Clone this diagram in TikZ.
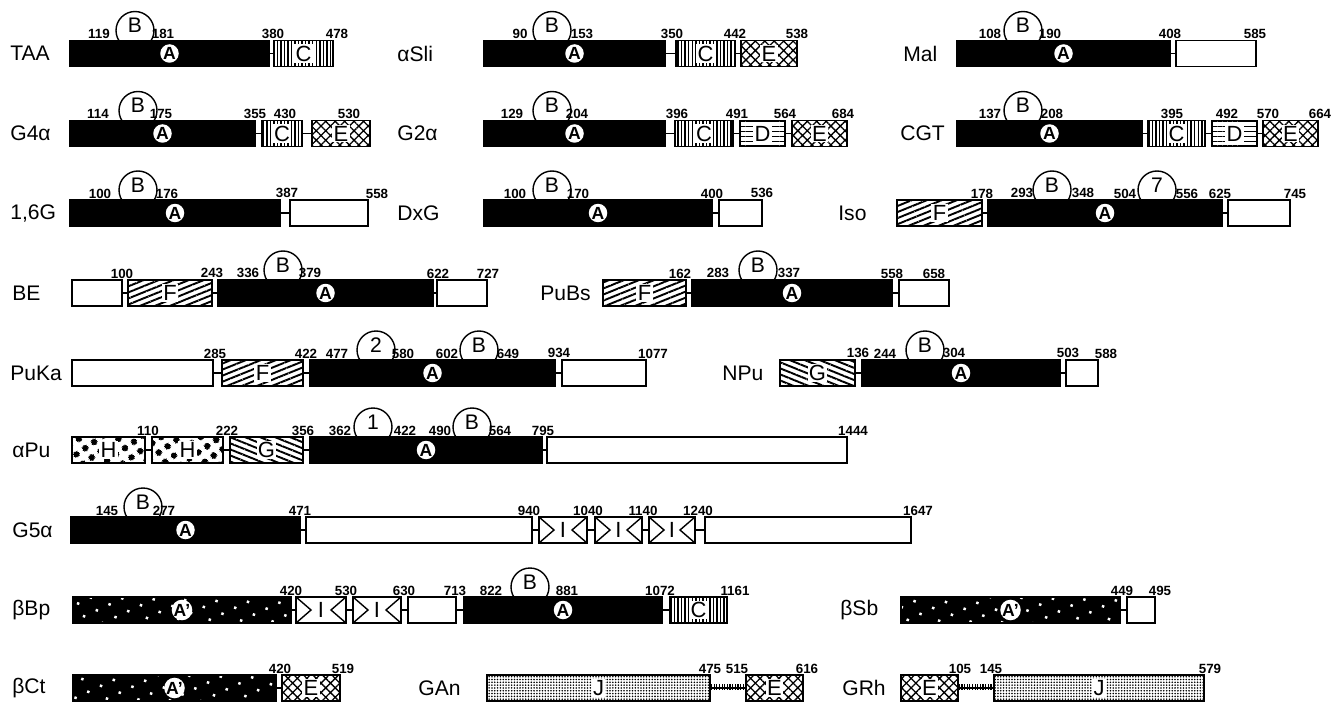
\documentclass[tikz,border=0pt]{standalone}
\usepackage{fontspec}
\setmainfont{Liberation Sans}
\usetikzlibrary{patterns.meta}

% one domain box: name, style, left x, right x, row y
\newcommand{\segbox}[5]{\node[#2, minimum width={(#4-#3)*0.02cm}, anchor=west] (#1) at (#3,#5) {};}

\begin{document}
\begin{tikzpicture}[
    x=0.02cm, y=-0.02cm,
    box/.style={draw, rectangle, line width=1pt, inner sep=0pt, outer sep=0pt, minimum height=0.52cm},
    domA/.style={box, fill=black},
    domAp/.style={box, preaction={fill=black}, pattern={Dots[radius=1pt, distance=8pt, angle=25]}, pattern color=white},
    domC/.style={box, pattern={Lines[angle=90, distance=2pt, line width=0.85pt]}},
    domD/.style={box, pattern={Lines[angle=0, distance=2.8pt, line width=0.7pt]}},
    domE/.style={box, pattern={Hatch[angle=45, distance=3.8pt, line width=0.75pt]}},
    domF/.style={box, pattern={Lines[angle=22, distance=3.2pt, line width=1.1pt]}},
    domG/.style={box, pattern={Lines[angle=-22, distance=3.2pt, line width=1.1pt]}},
    domH/.style={box, pattern={Dots[radius=2pt, distance=6.5pt, angle=35]}},
    domJ/.style={box, pattern={Dots[radius=0.5pt, distance=1.6pt]}},
    domW/.style={box, fill=white},
    domI/.style={box, fill=white, path picture={
        \draw[line width=0.8pt] (path picture bounding box.north west) -- ++(15,13) -- (path picture bounding box.south west);
        \draw[line width=0.8pt] (path picture bounding box.north east) -- ++(-15,13) -- (path picture bounding box.south east);}},
    link/.style={line width=1pt},
    ladder/.style={pattern={Lines[angle=90, distance=1.5pt, line width=0.7pt]}},
    rowlab/.style={anchor=west, inner sep=0pt, font=\fontsize{12}{12}\selectfont},
    lab/.style={fill=white, inner sep=0.8pt, font=\fontsize{12.5}{12}\selectfont},
    circA/.style={circle, fill=white, inner sep=0pt, minimum size=0.37cm, font=\bfseries\fontsize{10}{10}\selectfont},
    bcirc/.style={circle, draw, fill=white, line width=0.8pt, minimum size=0.76cm, inner sep=0pt,
        label={[font=\fontsize{12}{12}\selectfont, yshift=0.1cm]center:#1}},
    num/.style={anchor=south, inner sep=0pt, font=\bfseries\fontsize{7.6}{8}\selectfont}
]
\useasboundingbox (0,0) rectangle (1341,702);

% TAA
\node[rowlab] (taa) at (10,53.5) {TAA};
\node[bcirc=B] (taa-b) at (135,30.5) {};
\segbox{taa-a}{domA}{70}{269}{53.5}
\segbox{taa-c}{domC}{274}{333}{53.5}
\draw[link] (taa-a) -- (taa-c);
\node[circA] (taa-al) at (taa-a) {A};
\node[lab] (taa-cl) at (taa-c) {C};
\foreach \n/\x in {119/99,181/163,380/273,478/337} \node[num] (taa-\n) at (\x,39) {\n};

% aSli
\node[rowlab] (asli) at (397,53.5) {αSli};
\node[bcirc=B] (asli-b) at (552,30.5) {};
\segbox{asli-a}{domA}{484}{665}{53.5}
\segbox{asli-c}{domC}{676}{735}{53.5}
\segbox{asli-e}{domE}{741}{797}{53.5}
\draw[link] (asli-a) -- (asli-c);
\draw[link] (asli-c) -- (asli-e);
\node[circA] (asli-al) at (asli-a) {A};
\node[lab] (asli-cl) at (asli-c) {C};
\node[lab] (asli-el) at (asli-e) {E};
\foreach \n/\x in {90/520,153/582,350/672,442/735,538/797} \node[num] (asli-\n) at (\x,39) {\n};

% Mal
\node[rowlab] (mal) at (903,53.5) {Mal};
\node[bcirc=B] (mal-b) at (1023,30.5) {};
\segbox{mal-a}{domA}{957}{1170}{53.5}
\segbox{mal-w}{domW}{1176}{1256}{53.5}
\draw[link] (mal-a) -- (mal-w);
\node[circA] (mal-al) at (mal-a) {A};
\foreach \n/\x in {108/990,190/1050,408/1170,585/1255} \node[num] (mal-\n) at (\x,39) {\n};

% G4a
\node[rowlab] (g4a) at (10,133.5) {G4α};
\node[bcirc=B] (g4a-b) at (138,110.5) {};
\segbox{g4a-a}{domA}{70}{255}{133.5}
\segbox{g4a-c}{domC}{262}{302}{133.5}
\segbox{g4a-e}{domE}{312}{370}{133.5}
\draw[link] (g4a-a) -- (g4a-c);
\draw[link] (g4a-c) -- (g4a-e);
\node[circA] (g4a-al) at (g4a-a) {A};
\node[lab] (g4a-cl) at (g4a-c) {C};
\node[lab] (g4a-el) at (g4a-e) {E};
\foreach \n/\x in {114/98,175/161,355/255,430/285,530/349} \node[num] (g4a-\n) at (\x,119) {\n};

% G2a
\node[rowlab] (g2a) at (397,133.5) {G2α};
\node[bcirc=B] (g2a-b) at (552,110.5) {};
\segbox{g2a-a}{domA}{484}{665}{133.5}
\segbox{g2a-c}{domC}{675}{733}{133.5}
\segbox{g2a-d}{domD}{740}{785}{133.5}
\segbox{g2a-e}{domE}{792}{847}{133.5}
\draw[link] (g2a-a) -- (g2a-c);
\draw[link] (g2a-c) -- (g2a-d);
\draw[link] (g2a-d) -- (g2a-e);
\node[circA] (g2a-al) at (g2a-a) {A};
\node[lab] (g2a-cl) at (g2a-c) {C};
\node[lab] (g2a-dl) at (g2a-d) {D};
\node[lab] (g2a-el) at (g2a-e) {E};
\foreach \n/\x in {129/512,204/577,396/677,491/737,564/785,684/843} \node[num] (g2a-\n) at (\x,119) {\n};

% CGT
\node[rowlab] (cgt) at (900,133.5) {CGT};
\node[bcirc=B] (cgt-b) at (1023,110.5) {};
\segbox{cgt-a}{domA}{957}{1142}{133.5}
\segbox{cgt-c}{domC}{1148}{1205}{133.5}
\segbox{cgt-d}{domD}{1212}{1257}{133.5}
\segbox{cgt-e}{domE}{1263}{1318}{133.5}
\draw[link] (cgt-a) -- (cgt-c);
\draw[link] (cgt-c) -- (cgt-d);
\draw[link] (cgt-d) -- (cgt-e);
\node[circA] (cgt-al) at (cgt-a) {A};
\node[lab] (cgt-cl) at (cgt-c) {C};
\node[lab] (cgt-dl) at (cgt-d) {D};
\node[lab] (cgt-el) at (cgt-e) {E};
\foreach \n/\x in {137/990,208/1052,395/1172,492/1227,570/1268,664/1320} \node[num] (cgt-\n) at (\x,119) {\n};

% 1,6G
\node[rowlab] (g16) at (10,213) {1,6G};
\node[bcirc=B] (g16-b) at (138,190) {};
\segbox{g16-a}{domA}{70}{280}{213}
\segbox{g16-w}{domW}{290}{368}{213}
\draw[link] (g16-a) -- (g16-w);
\node[circA] (g16-al) at (g16-a) {A};
\foreach \n/\x in {100/100,176/167,387/287,558/377} \node[num] (g16-\n) at (\x,198.5) {\n};

% DxG
\node[rowlab] (dxg) at (397,213) {DxG};
\node[bcirc=B] (dxg-b) at (552,190) {};
\segbox{dxg-a}{domA}{484}{712}{213}
\segbox{dxg-w}{domW}{719}{762}{213}
\draw[link] (dxg-a) -- (dxg-w);
\node[circA] (dxg-al) at (dxg-a) {A};
\foreach \n/\x in {100/515,170/578,400/712,536/762} \node[num] (dxg-\n) at (\x,198.5) {\n};

% Iso
\node[rowlab] (iso) at (838,213) {Iso};
\node[bcirc=B] (iso-b) at (1052,190) {};
\node[bcirc=7] (iso-7) at (1157,190) {};
\segbox{iso-f}{domF}{897}{982}{213}
\segbox{iso-a}{domA}{988}{1222}{213}
\segbox{iso-w}{domW}{1228}{1290}{213}
\draw[link] (iso-f) -- (iso-a);
\draw[link] (iso-a) -- (iso-w);
\node[lab] (iso-fl) at (iso-f) {F};
\node[circA] (iso-al) at (iso-a) {A};
\foreach \n/\x in {178/982,293/1022,348/1083,504/1125,556/1187,625/1220,745/1295} \node[num] (iso-\n) at (\x,198.5) {\n};

% BE
\node[rowlab] (be) at (12,293) {BE};
\node[bcirc=B] (be-b) at (283,270) {};
\segbox{be-w1}{domW}{72}{122}{293}
\segbox{be-f}{domF}{128}{212}{293}
\segbox{be-a}{domA}{218}{433}{293}
\segbox{be-w2}{domW}{437}{487}{293}
\draw[link] (be-w1) -- (be-f);
\draw[link] (be-f) -- (be-a);
\draw[link] (be-a) -- (be-w2);
\node[lab] (be-fl) at (be-f) {F};
\node[circA] (be-al) at (be-a) {A};
\foreach \n/\x in {100/122,243/212,336/248,379/310,622/438,727/488} \node[num] (be-\n) at (\x,278.5) {\n};

% PuBs
\node[rowlab] (pubs) at (540,293) {PuBs};
\node[bcirc=B] (pubs-b) at (758,270) {};
\segbox{pubs-f}{domF}{603}{686}{293}
\segbox{pubs-a}{domA}{692}{892}{293}
\segbox{pubs-w}{domW}{899}{949}{293}
\draw[link] (pubs-f) -- (pubs-a);
\draw[link] (pubs-a) -- (pubs-w);
\node[lab] (pubs-fl) at (pubs-f) {F};
\node[circA] (pubs-al) at (pubs-a) {A};
\foreach \n/\x in {162/680,283/718,337/789,558/892,658/934} \node[num] (pubs-\n) at (\x,278.5) {\n};

% PuKa
\node[rowlab] (puka) at (10,373) {PuKa};
\node[bcirc=2] (puka-2) at (376,350) {};
\node[bcirc=B] (puka-b) at (479,350) {};
\segbox{puka-w1}{domW}{72}{213}{373}
\segbox{puka-f}{domF}{222}{303}{373}
\segbox{puka-a}{domA}{310}{555}{373}
\segbox{puka-w2}{domW}{562}{646}{373}
\draw[link] (puka-w1) -- (puka-f);
\draw[link] (puka-f) -- (puka-a);
\draw[link] (puka-a) -- (puka-w2);
\node[lab] (puka-fl) at (puka-f) {F};
\node[circA] (puka-al) at (puka-a) {A};
\foreach \n/\x in {285/215,422/306,477/337,580/403,602/447,649/508,934/559,1077/653} \node[num] (puka-\n) at (\x,358.5) {\n};

% NPu
\node[rowlab] (npu) at (722,373) {NPu};
\node[bcirc=B] (npu-b) at (925,350) {};
\segbox{npu-g}{domG}{780}{855}{373}
\segbox{npu-a}{domA}{862}{1060}{373}
\segbox{npu-w}{domW}{1066}{1098}{373}
\draw[link] (npu-g) -- (npu-a);
\draw[link] (npu-a) -- (npu-w);
\node[lab] (npu-gl) at (npu-g) {G};
\node[circA] (npu-al) at (npu-a) {A};
\foreach \n/\x in {136/858,244/885,304/954,503/1068,588/1106} \node[num] (npu-\n) at (\x,358.5) {\n};

% aPu
\node[rowlab] (apu) at (12,450) {αPu};
\node[bcirc=1] (apu-1) at (373,427) {};
\node[bcirc=B] (apu-b) at (472,427) {};
\segbox{apu-h1}{domH}{72}{145}{450}
\segbox{apu-h2}{domH}{152}{223}{450}
\segbox{apu-g}{domG}{230}{303}{450}
\segbox{apu-a}{domA}{310}{542}{450}
\segbox{apu-w}{domW}{547}{847}{450}
\draw[link] (apu-h1) -- (apu-h2);
\draw[link] (apu-h2) -- (apu-g);
\draw[link] (apu-g) -- (apu-a);
\draw[link] (apu-a) -- (apu-w);
\node[lab] (apu-h1l) at (apu-h1) {H};
\node[lab] (apu-h2l) at (apu-h2) {H};
\node[lab] (apu-gl) at (apu-g) {G};
\node[circA] (apu-al) at (apu-a) {A};
\foreach \n/\x in {110/148,222/227,356/303,362/340,422/405,490/440,564/500,795/543,1444/853} \node[num] (apu-\n) at (\x,435.5) {\n};

% G5a
\node[rowlab] (g5a) at (12,530) {G5α};
\node[bcirc=B] (g5a-b) at (143,507) {};
\segbox{g5a-a}{domA}{71}{300}{530}
\segbox{g5a-w1}{domW}{306}{532}{530}
\segbox{g5a-i1}{domI}{539}{587}{530}
\segbox{g5a-i2}{domI}{595}{642}{530}
\segbox{g5a-i3}{domI}{649}{695}{530}
\segbox{g5a-w2}{domW}{705}{911}{530}
\draw[link] (g5a-a) -- (g5a-w1);
\draw[link] (g5a-w1) -- (g5a-i1);
\draw[link] (g5a-i1) -- (g5a-i2);
\draw[link] (g5a-i2) -- (g5a-i3);
\draw[link] (g5a-i3) -- (g5a-w2);
\node[circA] (g5a-al) at (g5a-a) {A};
\foreach \i in {1,2,3} \node[lab, fill=none] (g5a-i\i l) at (g5a-i\i) {I};
\foreach \n/\x in {145/107,277/164,471/300,940/529,1040/588,1140/643,1240/698,1647/918} \node[num] (g5a-\n) at (\x,515.5) {\n};

% bBp
\node[rowlab] (bbp) at (12,610) {βBp};
\node[bcirc=B] (bbp-b) at (530,587) {};
\segbox{bbp-ap}{domAp}{73}{291}{610}
\segbox{bbp-i1}{domI}{296}{346}{610}
\segbox{bbp-i2}{domI}{353}{401}{610}
\segbox{bbp-w}{domW}{408}{456}{610}
\segbox{bbp-a}{domA}{464}{662}{610}
\segbox{bbp-c}{domC}{670}{727}{610}
\draw[link] (bbp-ap) -- (bbp-i1);
\draw[link] (bbp-i1) -- (bbp-i2);
\draw[link] (bbp-i2) -- (bbp-w);
\draw[link] (bbp-w) -- (bbp-a);
\draw[link] (bbp-a) -- (bbp-c);
\node[circA] (bbp-apl) at (bbp-ap) {A'};
\foreach \i in {1,2} \node[lab, fill=none] (bbp-i\i l) at (bbp-i\i) {I};
\node[circA] (bbp-al) at (bbp-a) {A};
\node[lab] (bbp-cl) at (bbp-c) {C};
\foreach \n/\x in {420/291,530/346,630/404,713/455,822/491,881/567,1072/660,1161/735} \node[num] (bbp-\n) at (\x,595.5) {\n};

% bSb
\node[rowlab] (bsb) at (840,610) {βSb};
\segbox{bsb-ap}{domAp}{901}{1120}{610}
\segbox{bsb-w}{domW}{1127}{1155}{610}
\draw[link] (bsb-ap) -- (bsb-w);
\node[circA] (bsb-apl) at (bsb-ap) {A'};
\foreach \n/\x in {449/1122,495/1160} \node[num] (bsb-\n) at (\x,595.5) {\n};

% bCt
\node[rowlab] (bct) at (12,688) {βCt};
\segbox{bct-ap}{domAp}{73}{276}{688}
\segbox{bct-e}{domE}{282}{340}{688}
\draw[link] (bct-ap) -- (bct-e);
\node[circA] (bct-apl) at (bct-ap) {A'};
\node[lab] (bct-el) at (bct-e) {E};
\foreach \n/\x in {420/280,519/343} \node[num] (bct-\n) at (\x,673.5) {\n};

% GAn
\node[rowlab] (gan) at (418,688) {GAn};
\segbox{gan-j}{domJ}{487}{710}{688}
\segbox{gan-e}{domE}{746}{803}{688}
\draw[link] (gan-j) -- (gan-e);
\path[ladder] ([yshift=0.08cm]gan-j.east) rectangle ([yshift=-0.03cm]gan-e.west);
\node[lab] (gan-jl) at (gan-j) {J};
\node[lab] (gan-el) at (gan-e) {E};
\foreach \n/\x in {475/710,515/737,616/807} \node[num] (gan-\n) at (\x,673.5) {\n};

% GRh
\node[rowlab] (grh) at (842,688) {GRh};
\segbox{grh-e}{domE}{901}{958}{688}
\segbox{grh-j}{domJ}{994}{1204}{688}
\draw[link] (grh-e) -- (grh-j);
\path[ladder] ([yshift=0.08cm]grh-e.east) rectangle ([yshift=-0.03cm]grh-j.west);
\node[lab] (grh-el) at (grh-e) {E};
\node[lab] (grh-jl) at (grh-j) {J};
\foreach \n/\x in {105/960,145/991,579/1210} \node[num] (grh-\n) at (\x,673.5) {\n};

\end{tikzpicture}
\end{document}
